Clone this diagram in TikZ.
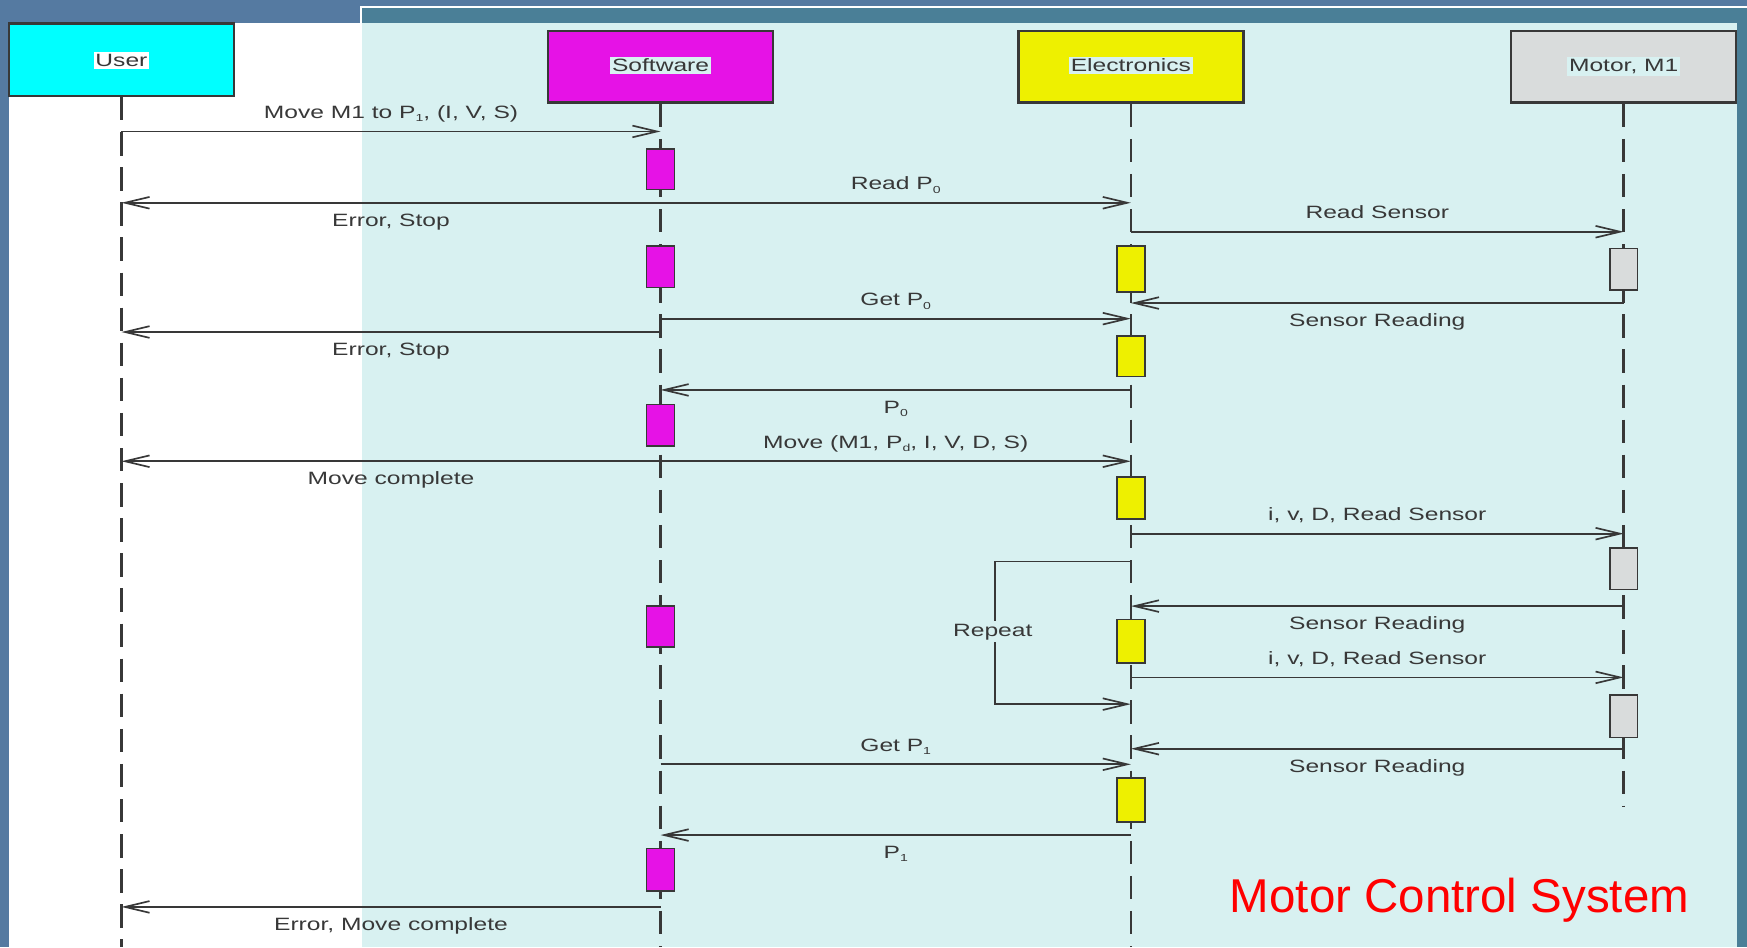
\documentclass[tikz,border=0pt]{standalone}
\usepackage{fontspec}
\setmainfont{Liberation Sans}
\newfontfamily\lblfont{Liberation Sans}[FakeStretch=1.38]
\newfontfamily\titlefont{Liberation Sans}
\usetikzlibrary{arrows.meta}
\definecolor{bgblue}{HTML}{557AA1}
\definecolor{ovteal}{HTML}{4A7F97}
\definecolor{ovlight}{HTML}{D8F1F1}
\definecolor{linegray}{HTML}{383838}
\definecolor{txtgray}{HTML}{383838}
\definecolor{usercyan}{HTML}{00FFFF}
\definecolor{swmag}{HTML}{E612E6}
\definecolor{elyel}{HTML}{EEF000}
\definecolor{mogray}{HTML}{D9DCDC}
\definecolor{titlered}{HTML}{FF0000}
\newcommand\lowsub[1]{\raisebox{-0.35ex}{\fontsize{5.2pt}{6pt}\selectfont #1}}
\begin{document}
\begin{tikzpicture}[x=0.2mm, y=-0.2mm,
  head/.style={draw=linegray, line width=0.45mm, minimum width=40.4mm, inner sep=0},
  hlabel/.style={font=\lblfont\fontsize{9.1pt}{11pt}\selectfont, text=txtgray, inner sep=0.35mm, anchor=base},
  lab/.style={font=\lblfont\fontsize{9.1pt}{11pt}\selectfont, text=txtgray, inner sep=0, anchor=base},
  labA/.style={lab, yshift=2.3mm},
  labB/.style={lab, yshift=-4.2mm},
  life/.style={draw=linegray, line width=0.45mm, dash pattern=on 4.2mm off 2.1mm},
  msg/.style={draw=linegray, line width=0.32mm, -{Straight Barb[length=4.4mm, width=2.1mm, line width=0.3mm]}},
  act/.style={draw=linegray, line width=0.3mm, minimum width=5mm, inner sep=0}
]
\useasboundingbox (0,0) rectangle (1568,850);
% background and panels
\fill[bgblue] (0,0) rectangle (1568,850);
\fill[white] (8.1,20.6) rectangle (1559,850);
\fill[ovteal] (325,6.6) rectangle (1568,850);
\fill[ovlight] (325,20.6) rectangle (1559,850);
\draw[white, line width=0.35mm] (324.1,850) -- (324.1,5.9) -- (1568,5.9);

% header boxes
\node[head, fill=usercyan, minimum height=13mm] (hu) at (109,53.5) {};
\node[head, fill=swmag, minimum height=12.8mm] (hs) at (592.85,60) {};
\node[head, fill=elyel, minimum height=12.8mm] (he) at (1015,60) {};
\node[head, fill=mogray, minimum height=12.8mm] (hm) at (1457.3,60) {};
\node[hlabel, fill=white] (tu) at (109,59.6) {User};
\node[hlabel, fill=ovlight] (ts) at (592.85,64.3) {Software};
\node[hlabel, fill=ovlight] (te) at (1015,64.3) {Electronics};
\node[hlabel, fill=ovlight] (tm) at (1457.3,64.3) {Motor, M1};

% end coordinates
\coordinate (bot) at (0,850);
\coordinate (motend) at (0,724);

% lifelines
\draw[life] (hu.south) -- (hu.south |- bot);
\draw[life] (hs.south) -- (hs.south |- bot);
\draw[life] (he.south) -- (he.south |- bot);
\draw[life] (hm.south) -- (hm.south |- motend);

% message levels
\coordinate (m1) at (0,118);
\coordinate (m2) at (0,182);
\coordinate (m3) at (0,208);
\coordinate (m4) at (0,272);
\coordinate (m5) at (0,286);
\coordinate (m6) at (0,298);
\coordinate (m7) at (0,350);
\coordinate (m8) at (0,414);
\coordinate (m9) at (0,479);
\coordinate (r1) at (0,504);
\coordinate (m10) at (0,544);
\coordinate (m11) at (0,608);
\coordinate (r2) at (0,632);
\coordinate (m12) at (0,672);
\coordinate (m13) at (0,686);
\coordinate (m14) at (0,749.5);
\coordinate (m15) at (0,814);
\coordinate (rp1) at (893,504);
\coordinate (rp2) at (893,632);

% activation bars
\node[act, fill=swmag, minimum height=7.2mm] (sa1) at (592.85,152) {};
\node[act, fill=swmag, minimum height=7.4mm] (sa2) at (592.85,239.5) {};
\node[act, fill=swmag, minimum height=7.4mm] (sa3) at (592.85,381.5) {};
\node[act, fill=swmag, minimum height=7.4mm] (sa4) at (592.85,562.5) {};
\node[act, fill=swmag, minimum height=7.7mm] (sa5) at (592.85,780.75) {};
\node[act, fill=elyel, minimum height=8.2mm] (ea1) at (1015,241.5) {};
\node[act, fill=elyel, minimum height=7.3mm] (ea2) at (1015,319.8) {};
\node[act, fill=elyel, minimum height=7.6mm] (ea3) at (1015,447) {};
\node[act, fill=elyel, minimum height=7.8mm] (ea4) at (1015,575.5) {};
\node[act, fill=elyel, minimum height=7.8mm] (ea5) at (1015,718) {};
\node[act, fill=mogray, minimum height=7.4mm] (ma1) at (1457.3,241.5) {};
\node[act, fill=mogray, minimum height=7.4mm] (ma2) at (1457.3,510.5) {};
\node[act, fill=mogray, minimum height=7.6mm] (ma3) at (1457.3,643) {};

% messages
\draw[msg] (hu.south |- m1) -- node[labA] (l1) {Move M1 to P\lowsub{1}, (I, V, S)} (hs.south |- m1);
\draw[msg] (hs.south |- m2) -- node[labA] (l2) {Read P\lowsub{0}} (he.south |- m2);
\draw[msg] (hs.south |- m2) -- node[labB] (l3) {Error, Stop} (hu.south |- m2);
\draw[msg] (he.south |- m3) -- node[labA] (l4) {Read Sensor} (hm.south |- m3);
\draw[msg] (hm.south |- m4) -- node[labB] (l5) {Sensor Reading} (he.south |- m4);
\draw[msg] (hs.south |- m5) -- node[labA] (l6) {Get P\lowsub{0}} (he.south |- m5);
\draw[linegray, line width=0.32mm] (hs.south |- m5) -- (hs.south |- m6);
\draw[msg] (hs.south |- m6) -- node[labB] (l7) {Error, Stop} (hu.south |- m6);
\draw[msg] (he.south |- m7) -- node[labB] (l8) {P\lowsub{0}} (hs.south |- m7);
\draw[msg] (hs.south |- m8) -- node[labA] (l9) {Move (M1, P\lowsub{d}, I, V, D, S)} (he.south |- m8);
\draw[msg] (hs.south |- m8) -- node[labB] (l10) {Move complete} (hu.south |- m8);
\draw[msg] (he.south |- m9) -- node[labA] (l11) {i, v, D, Read Sensor} (hm.south |- m9);
\draw[msg] (he.south |- r1) -- (rp1) -- (rp2) -- (he.south |- r2);
\node[lab, anchor=center, fill=ovlight, inner sep=0.5mm] (rep) at (891,567) {Repeat};
\draw[msg] (hm.south |- m10) -- node[labB] (l12) {Sensor Reading} (he.south |- m10);
\draw[msg] (he.south |- m11) -- node[labA] (l13) {i, v, D, Read Sensor} (hm.south |- m11);
\draw[msg] (hm.south |- m12) -- node[labB] (l14) {Sensor Reading} (he.south |- m12);
\draw[msg] (hs.south |- m13) -- node[labA] (l15) {Get P\lowsub{1}} (he.south |- m13);
\draw[msg] (he.south |- m14) -- node[labB] (l16) {P\lowsub{1}} (hs.south |- m14);
\draw[msg] (hs.south |- m15) -- node[labB] (l17) {Error, Move complete} (hu.south |- m15);

% title
\node[font=\titlefont\fontsize{24.25pt}{28pt}\selectfont, text=titlered, anchor=base west, inner sep=0] (title) at (1103.6,818.6) {Motor Control System};
\end{tikzpicture}
\end{document}
